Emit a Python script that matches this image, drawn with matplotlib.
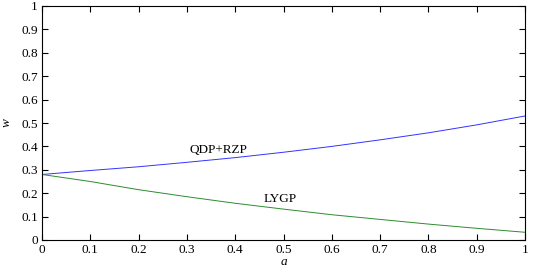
import numpy as np
import matplotlib
matplotlib.use('Agg')
import matplotlib.pyplot as plt

plt.rcParams['font.family'] = ['Liberation Serif', 'DejaVu Serif']
plt.rcParams['mathtext.fontset'] = 'custom'
plt.rcParams['mathtext.it'] = 'Liberation Serif:italic'

# values
a = [0.0, 0.1, 0.2, 0.3, 0.4, 0.5, 0.6, 0.7, 0.8, 0.9, 1.0]
w_qdp = [0.28, 0.297, 0.313, 0.332, 0.352, 0.375, 0.40, 0.428, 0.458, 0.492, 0.53]
w_lygp = [0.28, 0.25, 0.215, 0.185, 0.157, 0.132, 0.108, 0.088, 0.068, 0.05, 0.033]
xticks = [0, 0.1, 0.2, 0.3, 0.4, 0.5, 0.6, 0.7, 0.8, 0.9, 1]
yticks = [0, 0.1, 0.2, 0.3, 0.4, 0.5, 0.6, 0.7, 0.8, 0.9, 1]

fig = plt.figure(figsize=(5.41, 2.69), dpi=100)
ax = fig.add_axes([42/541, 1 - 240/269, 483/541, 234/269])

ax.plot(a, w_qdp, color='#3333ff', lw=0.7)
ax.plot(a, w_lygp, color='#2e8b2e', lw=0.7)

ax.text(0.306, 0.385, 'QDP+RZP', fontsize=9.5, va='center')
ax.text(0.458, 0.175, 'LYGP', fontsize=9.5, va='center')

ax.set_xlim(0, 1)
ax.set_ylim(0, 1)
ax.set_xticks(xticks)
ax.set_yticks(yticks)
ax.set_xticklabels([('%g' % t) for t in xticks])
ax.set_yticklabels([('%g' % t) for t in yticks])
ax.tick_params(direction='in', top=True, right=True, length=4, width=0.8,
               labelsize=9.5, pad=3)
for s in ax.spines.values():
    s.set_linewidth(0.8)

ax.set_xlabel('a', fontstyle='italic', fontsize=9.5, labelpad=0)
ax.set_ylabel('w', fontstyle='italic', fontsize=9.5, labelpad=6)

fig.savefig('out.png', dpi=100)
